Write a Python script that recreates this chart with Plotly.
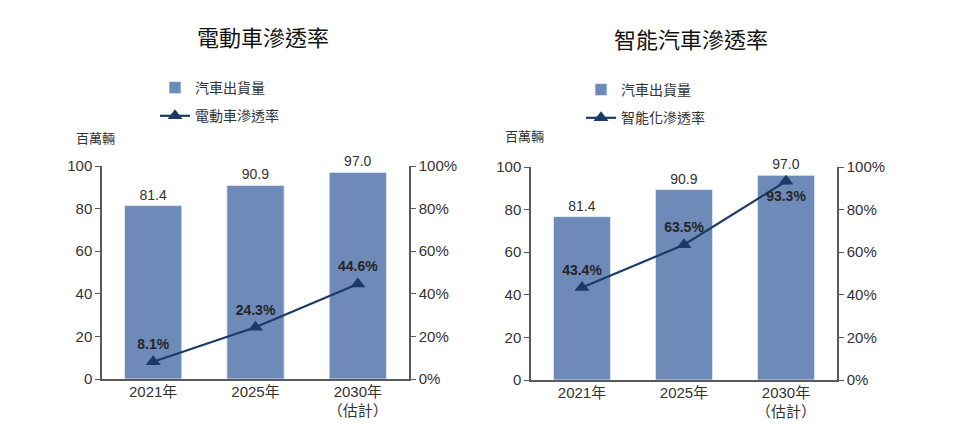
import plotly.graph_objects as go

# data
years = ["2021年", "2025年", "2030年"]
year_labels = ["2021年", "2025年", "2030年<br>（估計）"]

ev_shipments = [81.4, 90.9, 97.0]
ev_penetration = [0.081, 0.243, 0.446]

# right panel: bars are drawn a bit lower than their printed labels
smart_bar_heights = [76.7, 89.4, 96.1]
smart_bar_labels = ["81.4", "90.9", "97.0"]
smart_penetration = [0.434, 0.635, 0.933]

W, H = 969, 425
OFF = 8  # page body margin in the browser
BAR = "#6d8ab8"
LINE = "#1b3a66"
AXIS = "#5a5a5a"
TXT = "#333333"
CJK = "Noto Sans CJK TC"
NUM = "Liberation Sans, Arial, sans-serif"


def px_x(v):
    return (v - OFF) / W


def px_y(v):
    return (H - (v - OFF)) / H


fig = go.Figure()

# left panel
fig.add_trace(go.Bar(
    x=years, y=ev_shipments, name="汽車出貨量",
    marker=dict(color=BAR, line=dict(color="#e8edf5", width=0.8)),
    width=0.56, text=[f"{v:.1f}" for v in ev_shipments], textposition="outside",
    textfont=dict(family=NUM, size=14, color=TXT), cliponaxis=False,
    xaxis="x", yaxis="y", legend="legend", legendgroup="a"))
fig.add_trace(go.Scatter(
    x=years, y=ev_penetration, name="電動車滲透率", mode="lines+markers+text",
    line=dict(color=LINE, width=2.2), marker=dict(symbol="triangle-up", size=13, color=LINE),
    text=[f"{v*100:.1f}%" for v in ev_penetration], textposition="top center",
    textfont=dict(family=NUM, size=14, color="#262626", weight="bold"), cliponaxis=False,
    xaxis="x", yaxis="y2", legend="legend", legendgroup="b"))

# right panel
fig.add_trace(go.Bar(
    x=years, y=smart_bar_heights, name="汽車出貨量",
    marker=dict(color=BAR, line=dict(color="#e8edf5", width=0.8)),
    width=0.56, text=smart_bar_labels, textposition="outside",
    textfont=dict(family=NUM, size=14, color=TXT), cliponaxis=False,
    xaxis="x2", yaxis="y3", legend="legend2", legendgroup="c"))
fig.add_trace(go.Scatter(
    x=years, y=smart_penetration, name="智能化滲透率", mode="lines+markers+text",
    line=dict(color=LINE, width=2.2), marker=dict(symbol="triangle-up", size=13, color=LINE),
    text=[f"{v*100:.1f}%" for v in smart_penetration],
    textposition=["top center", "top center", "bottom center"],
    textfont=dict(family=NUM, size=14, color="#262626", weight="bold"), cliponaxis=False,
    xaxis="x2", yaxis="y4", legend="legend2", legendgroup="d"))

xcommon = dict(type="category", showline=True, linecolor=AXIS, linewidth=1.5,
               ticks="", showgrid=False, range=[-0.5, 2.5], automargin=False,
               tickvals=years, ticktext=year_labels, ticklabelstandoff=-2,
               tickfont=dict(family=NUM + ", " + CJK, size=15, color=TXT))
ycommon = dict(showline=True, linecolor=AXIS, linewidth=1.5, ticks="outside",
               ticklen=5, tickcolor=AXIS, showgrid=False, zeroline=False, automargin=False,
               tickfont=dict(family=NUM, size=15, color=TXT))

legcommon = dict(font=dict(family=CJK, size=14, color=TXT), bgcolor="rgba(0,0,0,0)",
                 xanchor="left", yanchor="top", tracegroupgap=7, itemwidth=30,
                 traceorder="grouped")


def label(text, x, y, size, anchor="center"):
    return dict(text=text, x=px_x(x), y=px_y(y), xref="paper", yref="paper",
                xanchor=anchor, yanchor="middle", showarrow=False,
                font=dict(family=CJK, size=size, color="#111111" if size > 16 else TXT))


fig.update_layout(
    template="none",
    width=W, height=H, margin=dict(l=0, r=0, t=0, b=0, pad=0, autoexpand=False),
    paper_bgcolor="white", plot_bgcolor="white",
    barmode="overlay",
    xaxis=dict(xcommon, domain=[px_x(102), px_x(409)], anchor="y"),
    yaxis=dict(ycommon, domain=[px_y(379), px_y(166)], range=[0, 100], dtick=20, anchor="x"),
    yaxis2=dict(ycommon, domain=[px_y(379), px_y(166)], range=[0, 1], dtick=0.2,
                tickformat=".0%", overlaying="y", side="right", anchor="x"),
    xaxis2=dict(xcommon, domain=[px_x(531), px_x(837)], anchor="y3"),
    yaxis3=dict(ycommon, domain=[px_y(380), px_y(167)], range=[0, 100], dtick=20, anchor="x2"),
    yaxis4=dict(ycommon, domain=[px_y(380), px_y(167)], range=[0, 1], dtick=0.2,
                tickformat=".0%", overlaying="y3", side="right", anchor="x2"),
    legend=dict(legcommon, x=px_x(155), y=px_y(72)),
    legend2=dict(legcommon, x=px_x(581), y=px_y(74)),
    annotations=[
        label("電動車滲透率", 263, 36, 22),
        label("智能汽車滲透率", 691, 38, 22),
        label("百萬輛", 74, 137, 13, "left"),
        label("百萬輛", 503, 136, 13, "left"),
    ],
)

fig.write_html("out.html")
